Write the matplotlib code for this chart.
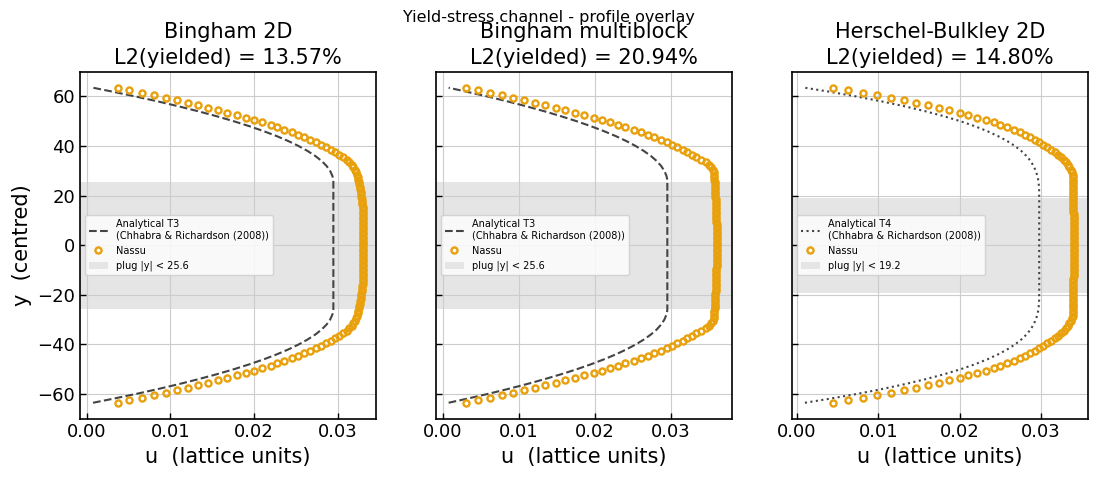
import numpy as np
import matplotlib
matplotlib.use("Agg")
import matplotlib.pyplot as plt
from matplotlib.patches import Patch
from matplotlib.lines import Line2D

# ---------------- data (upper half, mirrored: profiles are symmetric) ----------------
y_half = [0.5, 1.5, 2.5, 3.5, 4.5, 5.5, 6.5, 7.5, 8.5, 9.5,
          10.5, 11.5, 12.5, 13.5, 14.5, 15.5, 16.5, 17.5, 18.5, 19.5,
          20.5, 21.5, 22.5, 23.5, 24.5, 25.5, 26.5, 27.5, 28.5, 29.5,
          30.5, 31.5, 32.5, 33.5, 34.5, 35.5, 36.5, 37.5, 38.5, 39.5,
          40.5, 41.5, 42.5, 43.5, 44.5, 45.5, 46.5, 47.5, 48.5, 49.5,
          50.5, 51.5, 52.5, 53.5, 54.5, 55.5, 56.5, 57.5, 58.5, 59.5,
          60.5, 61.5, 62.5, 63.5]

nassu_bingham2d = [0.0331, 0.0331, 0.0331, 0.0331, 0.0331, 0.0331, 0.0331, 0.0331, 0.0331, 0.0331,
                   0.0331, 0.0331, 0.0330, 0.0330, 0.0330, 0.0330, 0.0329, 0.0329, 0.0329, 0.0328,
                   0.0328, 0.0328, 0.0327, 0.0327, 0.0326, 0.0326, 0.0325, 0.0324, 0.0323, 0.0322,
                   0.0321, 0.0319, 0.0317, 0.0314, 0.0311, 0.0307, 0.0302, 0.0297, 0.0292, 0.0286,
                   0.0280, 0.0274, 0.0267, 0.0260, 0.0253, 0.0245, 0.0236, 0.0228, 0.0220, 0.0210,
                   0.0200, 0.0190, 0.0180, 0.0168, 0.0157, 0.0145, 0.0133, 0.0121, 0.0108, 0.0095,
                   0.0080, 0.0066, 0.0051, 0.0037]

nassu_multiblock = [0.0360, 0.0360, 0.0360, 0.0360, 0.0360, 0.0360, 0.0360, 0.0360, 0.0360, 0.0359,
                    0.0359, 0.0359, 0.0359, 0.0359, 0.0359, 0.0359, 0.0359, 0.0359, 0.0359, 0.0358,
                    0.0358, 0.0358, 0.0358, 0.0358, 0.0358, 0.0358, 0.0357, 0.0357, 0.0357, 0.0356,
                    0.0355, 0.0353, 0.0350, 0.0346, 0.0339, 0.0333, 0.0327, 0.0321, 0.0315, 0.0308,
                    0.0301, 0.0294, 0.0287, 0.0277, 0.0269, 0.0260, 0.0251, 0.0240, 0.0230, 0.0220,
                    0.0209, 0.0198, 0.0186, 0.0174, 0.0161, 0.0149, 0.0134, 0.0121, 0.0107, 0.0092,
                    0.0078, 0.0062, 0.0046, 0.0030]

nassu_hb2d = [0.0341, 0.0341, 0.0341, 0.0341, 0.0341, 0.0341, 0.0341, 0.0341, 0.0341, 0.0341,
              0.0341, 0.0341, 0.0341, 0.0340, 0.0340, 0.0340, 0.0340, 0.0340, 0.0340, 0.0340,
              0.0340, 0.0340, 0.0340, 0.0340, 0.0339, 0.0339, 0.0339, 0.0339, 0.0339, 0.0338,
              0.0337, 0.0335, 0.0333, 0.0331, 0.0328, 0.0325, 0.0321, 0.0317, 0.0313, 0.0308,
              0.0303, 0.0298, 0.0293, 0.0287, 0.0281, 0.0274, 0.0267, 0.0259, 0.0250, 0.0242,
              0.0232, 0.0222, 0.0211, 0.0200, 0.0187, 0.0175, 0.0161, 0.0147, 0.0132, 0.0116,
              0.0099, 0.0081, 0.0063, 0.0045]

# analytical curves (upper half)
y_an_t3 = [0.0, 25.6, 26.0, 27.0, 28.0, 30.0, 32.0, 34.0, 36.0, 38.0, 40.0, 42.0, 44.0,
           46.0, 48.0, 50.0, 52.0, 54.0, 56.0, 58.0, 60.0, 62.0, 63.5]
u_an_t3 = [0.02950, 0.02950, 0.02950, 0.02946, 0.02938, 0.02911, 0.02868, 0.02809, 0.02734,
           0.02642, 0.02535, 0.02412, 0.02273, 0.02117, 0.01946, 0.01759, 0.01556, 0.01336,
           0.01101, 0.00850, 0.00583, 0.00299, 0.00076]

y_an_t4 = [0.0, 19.2, 22.0, 24.0, 26.0, 28.0, 30.0, 32.0, 34.0, 36.0, 38.0, 40.0, 42.0, 44.0,
           46.0, 48.0, 50.0, 52.0, 54.0, 56.0, 58.0, 60.0, 62.0, 63.5]
u_an_t4 = [0.02980, 0.02980, 0.02979, 0.02976, 0.02970, 0.02957, 0.02938, 0.02910, 0.02873,
           0.02823, 0.02760, 0.02682, 0.02587, 0.02474, 0.02342, 0.02188, 0.02012, 0.01811,
           0.01583, 0.01328, 0.01044, 0.00729, 0.00381, 0.00099]

titles = ["Bingham 2D\nL2(yielded) = 13.57%",
          "Bingham multiblock\nL2(yielded) = 20.94%",
          "Herschel-Bulkley 2D\nL2(yielded) = 14.80%"]
plug_half = [25.6, 25.6, 19.2]
an_labels = ["Analytical T3\n(Chhabra & Richardson (2008))",
             "Analytical T3\n(Chhabra & Richardson (2008))",
             "Analytical T4\n(Chhabra & Richardson (2008))"]
xlims = [(-0.0008, 0.0346), (-0.0009, 0.0380), (-0.0006, 0.0358)]
xticks = [0.00, 0.01, 0.02, 0.03]
yticks = [-60, -40, -20, 0, 20, 40, 60]


def mirror(yh, uh):
    yh = np.asarray(yh, float)
    uh = np.asarray(uh, float)
    return np.concatenate([-yh[::-1], yh]), np.concatenate([uh[::-1], uh])


nassu_sets = [nassu_bingham2d, nassu_multiblock, nassu_hb2d]
an_sets = [(y_an_t3, u_an_t3, "--"), (y_an_t3, u_an_t3, "--"), (y_an_t4, u_an_t4, ":")]

ORANGE = "#E8A00C"
DARK = "#444444"
BAND = "#e5e5e5"

fig = plt.figure(figsize=(10.97, 4.8), dpi=100)
lefts = [80 / 1097, 436 / 1097, 792 / 1097]
width = 296 / 1097
bottom = (480 - 418.5) / 480
height = (418.5 - 72) / 480

for i in range(3):
    ax = fig.add_axes([lefts[i], bottom, width, height])
    ax.axhspan(-plug_half[i], plug_half[i], color=BAND, zorder=0.5, lw=0)
    ya, ua, ls = an_sets[i]
    yy, uu = mirror(ya, ua)
    ax.plot(uu, yy, ls, color=DARK, lw=1.5, zorder=2)
    yn, un = mirror(y_half, nassu_sets[i])
    ax.plot(un, yn, "o", ms=4.4, mfc="none", mec=ORANGE, mew=1.7, zorder=3)

    ax.set_xlim(*xlims[i])
    ax.set_ylim(-69.85, 69.85)
    ax.set_xticks(xticks)
    ax.set_xticklabels([f"{t:.2f}" for t in xticks])
    ax.set_yticks(yticks)
    if i == 0:
        ax.set_ylabel("y  (centred)", fontsize=15)
    else:
        ax.set_yticklabels([])
    ax.set_xlabel("u  (lattice units)", fontsize=15)
    ax.set_title(titles[i], fontsize=15, pad=6, linespacing=1.35)
    ax.grid(True, color="#cccccc", lw=0.8, zorder=1)
    ax.tick_params(direction="in", labelsize=13, length=4, width=1, colors="black")
    for sp in ax.spines.values():
        sp.set_color("black")
        sp.set_linewidth(1.2)

    handles = [Line2D([0], [0], ls=ls, color=DARK, lw=1.5),
               Line2D([0], [0], ls="none", marker="o", ms=4.4, mfc="none", mec=ORANGE, mew=1.7),
               Patch(facecolor=BAND, edgecolor="none")]
    labels = [an_labels[i], "Nassu", f"plug |y| < {plug_half[i]}"]
    ax.legend(handles, labels, loc="center left", fontsize=7, framealpha=0.8)

fig.suptitle("Yield-stress channel - profile overlay", fontsize=11.5, y=0.98)
fig.savefig("out.png", dpi=100)
